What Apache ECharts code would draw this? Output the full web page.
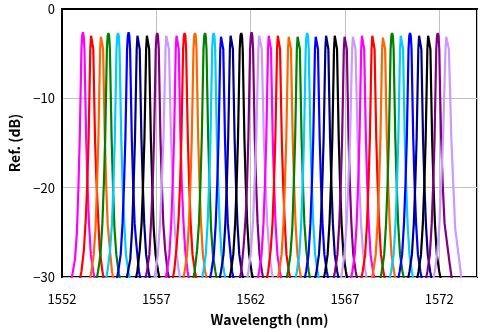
<!DOCTYPE html>
<html><head><meta charset="utf-8">
<script src="https://cdn.jsdelivr.net/npm/echarts@6/dist/echarts.min.js"></script>
<style>html,body{margin:0;padding:0;background:#fff}#c{width:481px;height:332px}</style>
</head><body><div id="c"></div>
<script>
// Axis tick values
const xTicks = [1552, 1557, 1562, 1567, 1572];
const yTicks = [0, -10, -20, -30];
// Reflection spectra: [wavelength (nm), reflection (dB)]
const p01 = [[1552.41,-31],[1552.56,-29.6],[1552.69,-28],[1552.79,-25],[1552.87,-20],[1552.94,-14.5],[1552.99,-9],[1553.03,-4.5],[1553.07,-3.0],[1553.11,-2.6],[1553.15,-3.0],[1553.19,-4.5],[1553.23,-9],[1553.28,-14.5],[1553.35,-19.5],[1553.43,-24],[1553.53,-27.5],[1553.66,-29.4],[1553.81,-31]];
const p02 = [[1552.88,-31],[1553.03,-29.4],[1553.16,-27],[1553.26,-23.5],[1553.34,-19.5],[1553.41,-14.5],[1553.46,-9],[1553.50,-4.5],[1553.54,-3.0],[1553.58,-2.8],[1553.62,-3.0],[1553.66,-4.5],[1553.70,-9],[1553.75,-14.5],[1553.82,-19],[1553.90,-22.5],[1554.00,-27],[1554.13,-29.2],[1554.28,-31]];
const p03 = [[1553.40,-31],[1553.55,-29.5],[1553.68,-27.5],[1553.78,-24.5],[1553.86,-19.5],[1553.93,-14.5],[1553.98,-9],[1554.02,-4.5],[1554.06,-3.1],[1554.10,-2.9],[1554.14,-3.1],[1554.18,-4.5],[1554.22,-9],[1554.27,-14.5],[1554.34,-19.5],[1554.42,-24],[1554.52,-26.5],[1554.65,-29.4],[1554.80,-31]];
const p04 = [[1553.76,-31],[1553.91,-29.4],[1554.04,-27.5],[1554.14,-24],[1554.22,-19.5],[1554.29,-14.5],[1554.34,-9],[1554.38,-4.5],[1554.42,-3.0],[1554.46,-2.7],[1554.50,-3.0],[1554.54,-4.5],[1554.58,-9],[1554.63,-14.5],[1554.70,-19.5],[1554.78,-24.5],[1554.88,-27.5],[1555.01,-29.6],[1555.16,-31]];
const p05 = [[1554.27,-31],[1554.42,-29.2],[1554.55,-27],[1554.65,-24],[1554.73,-19.5],[1554.80,-14.5],[1554.85,-9],[1554.89,-4.5],[1554.93,-3.0],[1554.97,-2.7],[1555.01,-3.0],[1555.05,-4.5],[1555.09,-9],[1555.14,-14.5],[1555.21,-19.5],[1555.29,-23.5],[1555.39,-27.5],[1555.52,-29.4],[1555.67,-31]];
const p06 = [[1554.83,-31],[1554.98,-29.4],[1555.11,-27.5],[1555.21,-24],[1555.29,-19.5],[1555.36,-14.5],[1555.41,-9],[1555.45,-4.5],[1555.49,-3.0],[1555.53,-2.6],[1555.57,-3.0],[1555.61,-4.5],[1555.65,-9],[1555.70,-14.5],[1555.77,-19.5],[1555.85,-24],[1555.95,-26.5],[1556.08,-29.4],[1556.23,-31]];
const p07 = [[1555.34,-31],[1555.49,-29.5],[1555.62,-28],[1555.72,-24.5],[1555.80,-19.5],[1555.87,-14.5],[1555.92,-9],[1555.96,-4.5],[1556.00,-3.0],[1556.04,-2.8],[1556.08,-3.0],[1556.12,-4.5],[1556.16,-9],[1556.21,-14.5],[1556.28,-19.5],[1556.36,-24],[1556.46,-27.5],[1556.59,-29.4],[1556.74,-31]];
const p08 = [[1555.84,-31],[1555.99,-29.4],[1556.12,-27],[1556.22,-24],[1556.30,-19.5],[1556.37,-14.5],[1556.42,-9],[1556.46,-4.5],[1556.50,-3.0],[1556.54,-2.8],[1556.58,-3.0],[1556.62,-4.5],[1556.66,-9],[1556.71,-14.5],[1556.78,-19.5],[1556.86,-24.5],[1556.96,-27.5],[1557.09,-29.3],[1557.24,-31]];
const p09 = [[1556.35,-31],[1556.50,-29.4],[1556.63,-27.5],[1556.73,-23.5],[1556.81,-19.5],[1556.88,-14.5],[1556.93,-9],[1556.97,-4.5],[1557.01,-3.0],[1557.05,-2.7],[1557.09,-3.0],[1557.13,-4.5],[1557.17,-9],[1557.22,-14.5],[1557.29,-19.5],[1557.37,-24],[1557.47,-27],[1557.60,-29.4],[1557.75,-31]];
const p10 = [[1556.83,-31],[1556.96,-29.4],[1557.08,-27.5],[1557.20,-24],[1557.29,-19.5],[1557.38,-14.5],[1557.44,-9],[1557.49,-4.5],[1557.53,-3.0],[1557.58,-2.8],[1557.63,-3.0],[1557.67,-4.5],[1557.72,-9],[1557.78,-14.5],[1557.87,-19.5],[1557.96,-24],[1558.08,-27.5],[1558.20,-29.4],[1558.33,-31]];
const p11 = [[1557.41,-31],[1557.56,-29.4],[1557.69,-27.5],[1557.79,-24],[1557.87,-19.5],[1557.94,-14.5],[1557.99,-9],[1558.03,-4.5],[1558.07,-3.0],[1558.11,-2.8],[1558.15,-3.0],[1558.19,-4.5],[1558.23,-9],[1558.28,-14.5],[1558.35,-19.5],[1558.43,-23.5],[1558.53,-27],[1558.66,-29.4],[1558.81,-31]];
const p12 = [[1557.80,-31],[1557.95,-29.3],[1558.08,-26.5],[1558.18,-23.5],[1558.26,-19.5],[1558.33,-14.5],[1558.38,-9],[1558.42,-4.5],[1558.46,-3.0],[1558.50,-2.7],[1558.54,-3.0],[1558.58,-4.5],[1558.62,-9],[1558.67,-14.5],[1558.74,-19.5],[1558.82,-24],[1558.92,-27.5],[1559.05,-29.4],[1559.20,-31]];
const p13 = [[1558.35,-31],[1558.50,-29.4],[1558.63,-27.5],[1558.73,-24],[1558.81,-19.5],[1558.88,-14.5],[1558.93,-9],[1558.97,-4.5],[1559.01,-3.0],[1559.05,-2.7],[1559.09,-3.0],[1559.13,-4.5],[1559.17,-9],[1559.22,-14.5],[1559.29,-19.5],[1559.37,-24],[1559.47,-27.5],[1559.60,-29.5],[1559.75,-31]];
const p14 = [[1558.88,-31],[1559.03,-29.4],[1559.16,-27],[1559.26,-24],[1559.34,-19.5],[1559.41,-14.5],[1559.46,-9],[1559.50,-4.5],[1559.54,-3.0],[1559.58,-2.7],[1559.62,-3.0],[1559.66,-4.5],[1559.70,-9],[1559.75,-14.5],[1559.82,-19.5],[1559.90,-24.5],[1560.00,-27.5],[1560.13,-29.4],[1560.28,-31]];
const p15 = [[1559.34,-31],[1559.49,-29.4],[1559.62,-27.5],[1559.72,-24],[1559.80,-19.5],[1559.87,-14.5],[1559.92,-9],[1559.96,-4.5],[1560.00,-3.0],[1560.04,-2.7],[1560.08,-3.0],[1560.12,-4.5],[1560.16,-9],[1560.21,-14.5],[1560.28,-19.5],[1560.36,-24],[1560.46,-27.5],[1560.59,-29.4],[1560.74,-31]];
const p16 = [[1559.77,-31],[1559.92,-29.4],[1560.05,-27.5],[1560.15,-24],[1560.23,-19.5],[1560.30,-14.5],[1560.35,-9],[1560.39,-4.5],[1560.43,-3.1],[1560.47,-2.9],[1560.51,-3.1],[1560.55,-4.5],[1560.59,-9],[1560.64,-14.5],[1560.71,-19.5],[1560.79,-24],[1560.89,-26.5],[1561.02,-29.4],[1561.17,-31]];
const p17 = [[1560.28,-31],[1560.43,-29.4],[1560.56,-27.5],[1560.66,-24],[1560.74,-19.5],[1560.81,-14.5],[1560.86,-9],[1560.90,-4.5],[1560.94,-3.0],[1560.98,-2.8],[1561.02,-3.0],[1561.06,-4.5],[1561.10,-9],[1561.15,-14.5],[1561.22,-19.5],[1561.30,-24],[1561.40,-27.5],[1561.53,-29.4],[1561.68,-31]];
const p18 = [[1560.80,-31],[1560.95,-29.4],[1561.08,-27.5],[1561.18,-24],[1561.26,-19.5],[1561.33,-14.5],[1561.38,-9],[1561.42,-4.5],[1561.46,-3.0],[1561.50,-2.7],[1561.54,-3.0],[1561.58,-4.5],[1561.62,-9],[1561.67,-14.5],[1561.74,-19.5],[1561.82,-24],[1561.92,-27.5],[1562.05,-29.4],[1562.20,-31]];
const p19 = [[1561.35,-31],[1561.50,-29.4],[1561.63,-26.5],[1561.73,-23.5],[1561.81,-19.5],[1561.88,-14.5],[1561.93,-9],[1561.97,-4.5],[1562.01,-3.0],[1562.05,-2.6],[1562.09,-3.0],[1562.13,-4.5],[1562.17,-9],[1562.22,-14.5],[1562.29,-19.5],[1562.37,-24],[1562.47,-27.5],[1562.60,-29.4],[1562.75,-31]];
const p20 = [[1561.75,-31],[1561.88,-29.4],[1562.00,-27.5],[1562.12,-24],[1562.21,-19.5],[1562.30,-14.5],[1562.36,-9],[1562.41,-4.5],[1562.45,-3.0],[1562.50,-2.8],[1562.55,-3.0],[1562.59,-4.5],[1562.64,-9],[1562.70,-14.5],[1562.79,-19.5],[1562.88,-24],[1563.00,-27.5],[1563.12,-29.4],[1563.25,-31]];
const p21 = [[1562.30,-31],[1562.45,-29.4],[1562.58,-27.5],[1562.68,-24],[1562.76,-19.5],[1562.83,-14.5],[1562.88,-9],[1562.92,-4.5],[1562.96,-3.0],[1563.00,-2.8],[1563.04,-3.0],[1563.08,-4.5],[1563.12,-9],[1563.17,-14.5],[1563.24,-19.5],[1563.32,-24],[1563.42,-27.5],[1563.55,-29.4],[1563.70,-31]];
const p22 = [[1562.78,-31],[1562.93,-29.4],[1563.06,-27],[1563.16,-24],[1563.24,-19.5],[1563.31,-14.5],[1563.36,-9],[1563.40,-4.5],[1563.44,-3.0],[1563.48,-2.8],[1563.52,-3.0],[1563.56,-4.5],[1563.60,-9],[1563.65,-14.5],[1563.72,-19.5],[1563.80,-23.5],[1563.90,-27.5],[1564.03,-29.4],[1564.18,-31]];
const p23 = [[1563.36,-31],[1563.51,-29.4],[1563.64,-27.5],[1563.74,-24],[1563.82,-19.5],[1563.89,-14.5],[1563.94,-9],[1563.98,-4.5],[1564.02,-3.1],[1564.06,-2.9],[1564.10,-3.1],[1564.14,-4.5],[1564.18,-9],[1564.23,-14.5],[1564.30,-19.5],[1564.38,-24],[1564.48,-27.5],[1564.61,-29.4],[1564.76,-31]];
const p24 = [[1563.83,-31],[1563.98,-29.4],[1564.11,-27.5],[1564.21,-24.5],[1564.29,-19.5],[1564.36,-14.5],[1564.41,-9],[1564.45,-4.5],[1564.49,-3.1],[1564.53,-2.9],[1564.57,-3.1],[1564.61,-4.5],[1564.65,-9],[1564.70,-14.5],[1564.77,-19.5],[1564.85,-24],[1564.95,-27],[1565.08,-29.4],[1565.23,-31]];
const p25 = [[1564.30,-31],[1564.45,-29.4],[1564.58,-27.5],[1564.68,-24],[1564.76,-19.5],[1564.83,-14.5],[1564.88,-9],[1564.92,-4.5],[1564.96,-3.0],[1565.00,-2.7],[1565.04,-3.0],[1565.08,-4.5],[1565.12,-9],[1565.17,-14.5],[1565.24,-19.5],[1565.32,-24],[1565.42,-27.5],[1565.55,-29.4],[1565.70,-31]];
const p26 = [[1564.79,-31],[1564.94,-29.4],[1565.07,-27.5],[1565.17,-24],[1565.25,-19.5],[1565.32,-14.5],[1565.37,-9],[1565.41,-4.5],[1565.45,-3.1],[1565.49,-2.9],[1565.53,-3.1],[1565.57,-4.5],[1565.61,-9],[1565.66,-14.5],[1565.73,-19.5],[1565.81,-24],[1565.91,-27.5],[1566.04,-29.4],[1566.19,-31]];
const p27 = [[1565.34,-31],[1565.49,-29.4],[1565.62,-27.5],[1565.72,-24],[1565.80,-19.5],[1565.87,-14.5],[1565.92,-9],[1565.96,-4.5],[1566.00,-3.0],[1566.04,-2.8],[1566.08,-3.0],[1566.12,-4.5],[1566.16,-9],[1566.21,-14.5],[1566.28,-19.5],[1566.36,-24],[1566.46,-27.5],[1566.59,-29.4],[1566.74,-31]];
const p28 = [[1565.80,-31],[1565.95,-29.4],[1566.08,-27.5],[1566.18,-24],[1566.26,-19.5],[1566.33,-14.5],[1566.38,-9],[1566.42,-4.5],[1566.46,-3.0],[1566.50,-2.8],[1566.54,-3.0],[1566.58,-4.5],[1566.62,-9],[1566.67,-14.5],[1566.74,-19.5],[1566.82,-24],[1566.92,-27.5],[1567.05,-29.4],[1567.20,-31]];
const p29 = [[1566.32,-31],[1566.47,-29.4],[1566.60,-27.5],[1566.70,-24],[1566.78,-19.5],[1566.85,-14.5],[1566.90,-9],[1566.94,-4.5],[1566.98,-3.1],[1567.02,-2.9],[1567.06,-3.1],[1567.10,-4.5],[1567.14,-9],[1567.19,-14.5],[1567.26,-19.5],[1567.34,-24],[1567.44,-27.5],[1567.57,-29.4],[1567.72,-31]];
const p30 = [[1566.72,-31],[1566.85,-29.4],[1566.97,-27.5],[1567.09,-24],[1567.18,-19.5],[1567.27,-14.5],[1567.33,-9],[1567.38,-4.5],[1567.42,-3.1],[1567.47,-2.9],[1567.52,-3.1],[1567.56,-4.5],[1567.61,-9],[1567.67,-14.5],[1567.76,-19.5],[1567.85,-24],[1567.97,-27.5],[1568.09,-29.4],[1568.22,-31]];
const p31 = [[1567.24,-31],[1567.39,-29.4],[1567.52,-27.5],[1567.62,-24],[1567.70,-19.5],[1567.77,-14.5],[1567.82,-9],[1567.86,-4.5],[1567.90,-3.0],[1567.94,-2.8],[1567.98,-3.0],[1568.02,-4.5],[1568.06,-9],[1568.11,-14.5],[1568.18,-19.5],[1568.26,-24],[1568.36,-27.5],[1568.49,-29.4],[1568.64,-31]];
const p32 = [[1567.79,-31],[1567.94,-29.4],[1568.07,-27.5],[1568.17,-24],[1568.25,-19.5],[1568.32,-14.5],[1568.37,-9],[1568.41,-4.5],[1568.45,-3.0],[1568.49,-2.8],[1568.53,-3.0],[1568.57,-4.5],[1568.61,-9],[1568.66,-14.5],[1568.73,-19.5],[1568.81,-24],[1568.91,-27.5],[1569.04,-29.4],[1569.19,-31]];
const p33 = [[1568.35,-31],[1568.50,-29.4],[1568.63,-27.5],[1568.73,-24],[1568.81,-19.5],[1568.88,-14.5],[1568.93,-9],[1568.97,-4.5],[1569.01,-3.2],[1569.05,-3.0],[1569.09,-3.2],[1569.13,-4.5],[1569.17,-9],[1569.22,-14.5],[1569.29,-19.5],[1569.37,-24],[1569.47,-27.5],[1569.60,-29.4],[1569.75,-31]];
const p34 = [[1568.80,-31],[1568.95,-29.4],[1569.08,-27.5],[1569.18,-24],[1569.26,-19.5],[1569.33,-14.5],[1569.38,-9],[1569.42,-4.5],[1569.46,-3.0],[1569.50,-2.7],[1569.54,-3.0],[1569.58,-4.5],[1569.62,-9],[1569.67,-14.5],[1569.74,-19.5],[1569.82,-24],[1569.92,-27.5],[1570.05,-29.4],[1570.20,-31]];
const p35 = [[1569.30,-31],[1569.45,-29.4],[1569.58,-27.5],[1569.68,-24],[1569.76,-19.5],[1569.83,-14.5],[1569.88,-9],[1569.92,-4.5],[1569.96,-3.0],[1570.00,-2.8],[1570.04,-3.0],[1570.08,-4.5],[1570.12,-9],[1570.17,-14.5],[1570.24,-19.5],[1570.32,-24],[1570.42,-27.5],[1570.55,-29.4],[1570.70,-31]];
const p36 = [[1569.75,-31],[1569.90,-29.4],[1570.03,-27.5],[1570.13,-24],[1570.21,-19.5],[1570.28,-14.5],[1570.33,-9],[1570.37,-4.5],[1570.41,-3.0],[1570.45,-2.7],[1570.49,-3.0],[1570.53,-4.5],[1570.57,-9],[1570.62,-14.5],[1570.69,-19.5],[1570.77,-24],[1570.87,-27.5],[1571.00,-29.4],[1571.15,-31]];
const p37 = [[1570.27,-31],[1570.42,-29.4],[1570.55,-27.5],[1570.65,-24],[1570.73,-19.5],[1570.80,-14.5],[1570.85,-9],[1570.89,-4.5],[1570.93,-3.0],[1570.97,-2.8],[1571.01,-3.0],[1571.05,-4.5],[1571.09,-9],[1571.14,-14.5],[1571.21,-19.5],[1571.29,-24],[1571.39,-27.5],[1571.52,-29.4],[1571.67,-31]];
const p38 = [[1570.75,-31],[1570.90,-29.4],[1571.03,-27.5],[1571.13,-24],[1571.21,-19.5],[1571.28,-14.5],[1571.33,-9],[1571.37,-4.5],[1571.41,-3.0],[1571.45,-2.8],[1571.49,-3.0],[1571.53,-4.5],[1571.57,-9],[1571.62,-14.5],[1571.69,-19.5],[1571.77,-24],[1571.87,-27.5],[1572.00,-29.4],[1572.15,-31]];
const p39 = [[1571.22,-31],[1571.37,-29.4],[1571.50,-27.5],[1571.60,-24],[1571.68,-19.5],[1571.75,-14.5],[1571.80,-9],[1571.84,-4.5],[1571.88,-3.0],[1571.92,-2.7],[1571.96,-3.0],[1572.00,-4.5],[1572.04,-9],[1572.10,-14.5],[1572.18,-19.5],[1572.28,-24],[1572.40,-26],[1572.55,-28.5],[1572.72,-31]];
const p40 = [[1571.62,-31],[1571.76,-29.4],[1571.88,-27.5],[1572.00,-24.5],[1572.09,-20],[1572.20,-14.5],[1572.27,-9],[1572.33,-4.5],[1572.37,-3.1],[1572.42,-2.9],[1572.47,-3.1],[1572.51,-4.5],[1572.57,-9],[1572.64,-14.5],[1572.75,-20],[1572.84,-24.5],[1572.96,-26.5],[1573.08,-28.5],[1573.22,-31]];

const spectra = [p01,p02,p03,p04,p05,p06,p07,p08,p09,p10,p11,p12,p13,p14,p15,p16,p17,p18,p19,p20,
                 p21,p22,p23,p24,p25,p26,p27,p28,p29,p30,p31,p32,p33,p34,p35,p36,p37,p38,p39,p40];
const palette = ['#FF00FF','#FF0000','#FF6600','#008000','#00CCFF','#0000FF','#000080','#000000','#800080','#CC99FF'];

const FONT = '"Noto Sans CJK JP", "Noto Sans", sans-serif';
const chart = echarts.init(document.getElementById('c'), null, {renderer: 'canvas'});
chart.setOption({
  animation: false,
  backgroundColor: '#fff',
  grid: {left: 59, right: 4, top: 9, bottom: 55, show: true, borderColor: '#000', borderWidth: 2, backgroundColor: 'transparent'},
  xAxis: {
    type: 'value', min: xTicks[0], max: 1574, interval: xTicks[1] - xTicks[0],
    axisLine: {show: true, lineStyle: {color: '#000', width: 2}},
    axisTick: {show: false},
    splitLine: {show: true, lineStyle: {color: '#C0C0C0', width: 1}},
    axisLabel: {showMaxLabel: false, color: '#000', fontSize: 13, fontFamily: FONT, margin: 16,
      formatter: v => xTicks.includes(v) ? String(v) : ''},
    name: 'Wavelength (nm)', nameLocation: 'middle', nameGap: 36,
    nameTextStyle: {color: '#000', fontSize: 14, fontWeight: 'bold', fontFamily: FONT}
  },
  yAxis: {
    type: 'value', min: yTicks[3], max: yTicks[0], interval: 10,
    axisLine: {show: true, lineStyle: {color: '#000', width: 2}},
    axisTick: {show: false},
    splitLine: {show: true, lineStyle: {color: '#C0C0C0', width: 1}},
    axisLabel: {color: '#000', fontSize: 13, fontFamily: FONT, margin: 7,
      formatter: v => String(v).replace('-', '\u2212')},
    name: 'Ref. (dB)', nameLocation: 'middle', nameGap: 40,
    nameTextStyle: {color: '#000', fontSize: 14, fontWeight: 'bold', fontFamily: FONT}
  },
  series: spectra.map((d, i) => ({
    type: 'line', data: d, showSymbol: false, symbol: 'none', clip: true,
    lineStyle: {width: 2.2, color: palette[i % palette.length]},
    itemStyle: {color: palette[i % palette.length]},
    emphasis: {disabled: true}
  }))
});
</script></body></html>
